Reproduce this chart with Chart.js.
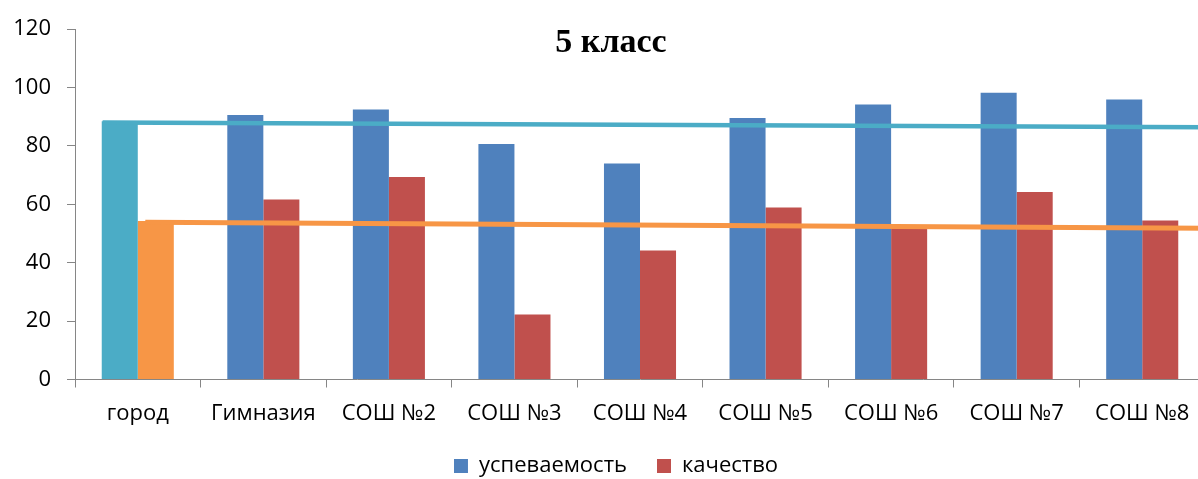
<!DOCTYPE html>
<html>
<head>
<meta charset="utf-8">
<script src="https://cdn.jsdelivr.net/npm/chart.js@4"></script>
<style>
    html, body { margin: 0; padding: 0; background: #fff; overflow: hidden; }
    #wrap { width: 1232px; height: 487px; }
</style>
</head>
<body>
<div id="wrap"><canvas id="chart" width="1232" height="487"></canvas></div>
<script>
// Data
const categories = ['город', 'Гимназия', 'СОШ №2', 'СОШ №3', 'СОШ №4', 'СОШ №5', 'СОШ №6', 'СОШ №7', 'СОШ №8'];
const uspevaemost = [88.5, 90.6, 92.5, 80.7, 74.0, 89.6, 94.2, 98.2, 95.9];
const kachestvo = [54.3, 61.7, 69.4, 22.3, 44.2, 58.9, 52.5, 64.2, 54.5];
const yTicks = [0, 20, 40, 60, 80, 100, 120];

// trend lines (x in category units, 0 = left edge of plot)
const trendUspX = [0.22, 9];
const trendUspY = [88.0, 86.4];
const trendKachX = [0.56, 9];
const trendKachY = [53.9, 51.85];

const BLUE = '#4F81BD';
const RED = '#C0504D';
const TEAL = '#4BACC6';
const ORANGE = '#F79646';
const AXIS = '#868686';
const FONT = "'Open Sans', sans-serif";

// first category ("город") uses its own colours
const blueColors = categories.map((c, i) => i === 0 ? TEAL : BLUE);
const redColors = categories.map((c, i) => i === 0 ? ORANGE : RED);

const toPoints = (xs, ys) => xs.map((x, i) => ({ x: x, y: ys[i] }));

const titlePlugin = {
    id: 'chartTitle',
    afterDraw(chart) {
        const ctx = chart.ctx;
        ctx.save();
        ctx.font = "bold 34px 'Liberation Serif', serif";
        ctx.fillStyle = '#000';
        ctx.textAlign = 'center';
        ctx.textBaseline = 'alphabetic';
        ctx.fillText('5 класс', 611, 52);
        ctx.restore();
    }
};

const ctx = document.getElementById('chart').getContext('2d');
new Chart(ctx, {
    data: {
        labels: categories,
        datasets: [
            {
                type: 'line',
                label: 'trend1',
                data: toPoints(trendUspX, trendUspY),
                xAxisID: 'xT',
                borderColor: TEAL,
                borderWidth: 4.5,
                pointRadius: 0,
                order: -1
            },
            {
                type: 'line',
                label: 'trend2',
                data: toPoints(trendKachX, trendKachY),
                xAxisID: 'xT',
                borderColor: ORANGE,
                borderWidth: 5,
                pointRadius: 0,
                order: -1
            },
            {
                type: 'bar',
                label: 'успеваемость',
                data: uspevaemost,
                backgroundColor: blueColors,
                categoryPercentage: 1.148,
                barPercentage: 1.0
            },
            {
                type: 'bar',
                label: 'качество',
                data: kachestvo,
                backgroundColor: redColors,
                categoryPercentage: 1.148,
                barPercentage: 1.0
            }
        ]
    },
    options: {
        responsive: false,
        animation: false,
        devicePixelRatio: 1,
        layout: { padding: { top: 13, left: 0, right: 0, bottom: 0 } },
        plugins: {
            tooltip: { enabled: false },
            title: { display: false },
            legend: {
                position: 'bottom',
                labels: {
                    font: { family: FONT, size: 22 },
                    color: '#000',
                    boxWidth: 14,
                    boxHeight: 14,
                    padding: 30,
                    generateLabels: chart => [
                        { text: 'успеваемость', fillStyle: BLUE, strokeStyle: BLUE, lineWidth: 0, datasetIndex: 2, fontColor: '#000' },
                        { text: 'качество', fillStyle: RED, strokeStyle: RED, lineWidth: 0, datasetIndex: 3, fontColor: '#000' }
                    ]
                }
            }
        },
        scales: {
            x: {
                type: 'category',
                offset: true,
                grid: { display: true, offset: true, drawOnChartArea: false, drawTicks: true, tickLength: 8, color: AXIS },
                border: { display: true, color: AXIS, width: 1 },
                ticks: { font: { family: FONT, size: 22 }, color: '#000', padding: 13, maxRotation: 0, autoSkip: false },
                afterFit: scale => { scale.height = 45.5; }
            },
            xT: {
                type: 'linear',
                min: 0,
                max: 9,
                display: false
            },
            y: {
                min: 0,
                max: 120,
                afterBuildTicks: scale => { scale.ticks = yTicks.map(v => ({ value: v })); },
                grid: { display: true, drawOnChartArea: false, drawTicks: true, tickLength: 8, color: AXIS },
                border: { display: true, color: AXIS, width: 1 },
                ticks: { font: { family: FONT, size: 22 }, color: '#000', padding: 16 },
                afterFit: scale => { scale.width = 75; }
            },
            yR: {
                position: 'right',
                display: true,
                min: 0,
                max: 120,
                grid: { display: false },
                border: { display: false },
                ticks: { display: false },
                afterFit: scale => { scale.width = 27; }
            }
        }
    },
    plugins: [titlePlugin]
});
</script>
</body>
</html>
